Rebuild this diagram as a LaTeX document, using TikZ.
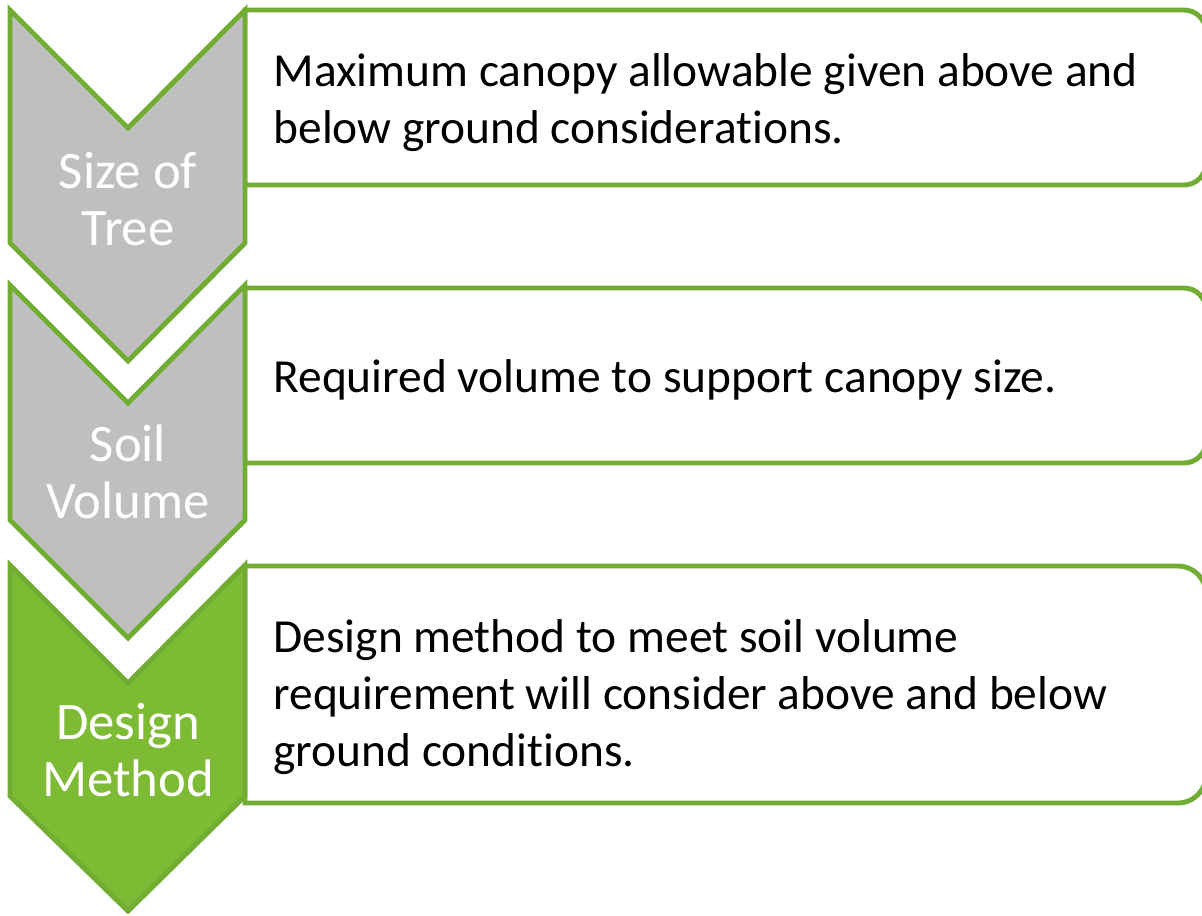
\documentclass[tikz,border=0pt]{standalone}
\usepackage{fontspec}
\setmainfont{Carlito}[Ligatures=NoCommon]
\usepackage{xcolor}
\definecolor{leaf-green}{HTML}{70AD32}
\definecolor{leaf-fill}{HTML}{7DBB34}
\definecolor{stone-gray}{HTML}{BFBFBF}

\begin{document}
\begin{tikzpicture}[line width=1.4pt,
      stepchev/.style={draw=leaf-green, fill=stone-gray},
      steppanel/.style={draw=leaf-green, fill=white},
      steptext/.style={text=white, align=center, inner sep=0pt,
                       font=\fontsize{15}{16.3}\selectfont},
      stepnote/.style={anchor=west, align=left, inner sep=0pt,
                       font=\fontsize{13.5}{16.2}\selectfont}]
    \useasboundingbox (0,0) rectangle (12.02,-9.15);
    % panels on the right, cut off by the page edge
    \draw[steppanel] (2.45,-0.10) -- (11.84,-0.10) arc[start angle=90, end angle=0, radius=0.22]
          -- (12.06,-1.63) arc[start angle=0, end angle=-90, radius=0.22] -- (2.45,-1.85) -- cycle;
    \draw[steppanel] (2.45,-2.88) -- (11.84,-2.88) arc[start angle=90, end angle=0, radius=0.22]
          -- (12.06,-4.41) arc[start angle=0, end angle=-90, radius=0.22] -- (2.45,-4.63) -- cycle;
    \draw[steppanel] (2.45,-5.66) -- (11.78,-5.66) arc[start angle=90, end angle=0, radius=0.28]
          -- (12.06,-7.75) arc[start angle=0, end angle=-90, radius=0.28] -- (2.45,-8.03) -- cycle;
    % chevrons
    \draw[stepchev] (0.10,-0.10) -- (1.28,-1.28) -- (2.45,-0.10) -- (2.45,-2.43)
          -- (1.28,-3.61) -- (0.10,-2.43) -- cycle;
    \draw[stepchev] (0.10,-2.85) -- (1.28,-4.03) -- (2.45,-2.85) -- (2.45,-5.20)
          -- (1.28,-6.38) -- (0.10,-5.20) -- cycle;
    \draw[stepchev, fill=leaf-fill] (0.10,-5.65) -- (1.28,-6.83) -- (2.45,-5.65) -- (2.45,-7.96)
          -- (1.28,-9.11) -- (0.10,-7.96) -- cycle;
    \node[steptext] (tree) at (1.28,-1.99) {Size of\\Tree};
    \node[steptext] (soil) at (1.28,-4.72) {Soil\\Volume};
    \node[steptext] (method) at (1.28,-7.50) {Design\\Method};
    \node[stepnote] (treenote) at (2.71,-1.03) {Maximum canopy allowable given above and\\below ground considerations.};
    \node[stepnote] (soilnote) at (2.71,-3.80) {Required volume to support canopy size.};
    \node[stepnote] (methodnote) at (2.71,-6.97) {Design method to meet soil volume\\requirement will consider above and below\\ground conditions.};
\end{tikzpicture}
\end{document}
